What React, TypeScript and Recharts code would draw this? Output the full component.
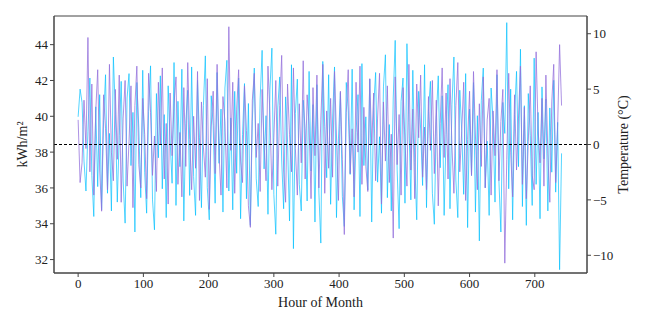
import { LineChart, Line, XAxis, YAxis, ReferenceLine, ReferenceArea } from 'recharts'

// hour of month, sampled every 3 hours
const hours: number[] = Array.from({ length: 248 }, (_, i) => i * 3)

// kWh/m² (left axis)
const kwh: number[] = [
  39.8, 36.3, 37.4, 40.9, 38.2, 44.4, 36.9, 41.8, 35.6, 40.3,
  42.6, 37.0, 34.7, 41.2, 39.3, 35.9, 42.9, 38.0, 36.4, 41.5,
  37.6, 42.3, 35.2, 39.9, 42.0, 36.1, 38.6, 41.7, 34.9, 40.6,
  42.8, 37.3, 36.0, 41.0, 39.0, 35.4, 42.4, 40.2, 36.7, 38.9,
  35.8, 41.9, 38.4, 42.7, 36.5, 39.6, 35.1, 41.3, 37.8, 40.7,
  42.2, 36.2, 39.1, 35.5, 41.6, 37.2, 43.0, 38.7, 35.9, 40.0,
  37.1, 42.5, 35.3, 40.8, 38.3, 36.6, 42.1, 34.8, 39.4, 41.4,
  36.8, 42.9, 37.9, 35.6, 41.1, 39.7, 36.0, 45.0, 38.1, 41.9,
  35.7, 40.4, 42.6, 37.5, 36.3, 41.7, 39.2, 35.0, 33.8, 40.9,
  42.4, 37.7, 39.6, 35.8, 41.5, 38.5, 36.4, 42.8, 40.1, 35.9,
  38.8, 42.0, 36.1, 40.6, 43.4, 37.0, 35.2, 41.8, 39.0, 36.9,
  42.7, 38.2, 35.6, 40.7, 37.4, 43.1, 36.5, 41.2, 39.5, 35.4,
  41.6, 37.8, 42.3, 36.0, 39.8, 42.9, 35.7, 40.3, 37.1, 41.0,
  36.6, 42.5, 38.9, 35.3, 41.4, 37.6, 33.4, 40.2, 42.6, 36.8,
  39.3, 35.5, 41.9, 38.0, 42.8, 36.2, 40.5, 37.2, 35.8, 42.1,
  38.4, 41.3, 36.4, 39.9, 42.4, 35.1, 40.8, 37.5, 41.7, 36.3,
  39.0, 33.2, 42.2, 37.3, 40.1, 35.6, 41.6, 38.6, 36.1, 42.9,
  37.0, 40.4, 35.4, 41.8, 38.8, 42.3, 36.6, 39.4, 35.9, 41.1,
  38.1, 42.0, 36.8, 40.9, 35.0, 39.6, 42.7, 37.7, 41.3, 36.5,
  42.1, 38.3, 35.7, 40.6, 43.0, 36.9, 39.2, 41.9, 35.3, 38.7,
  41.4, 36.7, 42.5, 38.9, 35.9, 40.7, 37.2, 42.2, 36.0, 39.8,
  41.0, 35.6, 40.3, 37.8, 42.6, 36.4, 39.7, 41.5, 31.8, 37.6,
  42.4, 38.0, 35.5, 41.2, 37.0, 39.9, 42.8, 36.2, 40.5, 35.4,
  38.6, 41.7, 36.7, 35.9, 43.6, 39.3, 37.4, 41.0, 36.1, 42.3,
  37.9, 35.2, 40.8, 42.9, 36.3, 39.5, 44.0, 40.6,
]

// temperature °C (right axis)
const temperature: number[] = [
  2.5, 5.0, 3.8, -1.5, -4.2, 1.2, 6.0, -2.8, -6.5, 3.4,
  -3.8, 4.5, -5.9, 2.2, 6.3, -4.4, 1.0, -6.0, 7.9, 3.1,
  -5.2, 0.8, 5.7, -3.3, -7.1, 4.2, 6.4, -1.9, 2.9, -7.9,
  5.6, 1.5, -4.8, 6.7, -2.5, -6.2, 3.0, 7.1, -5.0, -7.7,
  4.6, -1.2, 6.2, -4.0, 2.7, -6.6, 5.3, 0.4, -3.5, 7.4,
  -5.5, 3.9, -2.0, 6.8, -6.9, 1.9, 4.9, -4.6, 7.0, -2.9,
  -6.4, 5.8, 0.6, -5.7, 3.5, 8.0, -3.9, -6.8, 4.4, 1.7,
  -5.3, 6.5, -1.7, 3.2, -6.1, 5.1, 7.6, -4.2, 2.4, -5.9,
  4.8, -2.6, 6.0, -6.7, 0.9, 5.5, -4.9, 3.7, -7.3, 2.1,
  6.9, -3.1, -5.6, 4.1, 8.5, -2.2, 2.6, -6.3, 5.0, 8.7,
  -4.5, -8.1, 3.3, 6.1, -1.4, -5.8, 4.3, 0.2, -6.9, 7.2,
  -9.4, 2.8, 5.9, -3.6, -6.0, 4.0, 1.3, -5.1, 6.6, -2.4,
  3.6, -7.0, 5.4, -4.3, -8.9, 7.5, 1.6, -3.0, 6.3, -5.4,
  2.3, 7.0, -6.6, 0.5, 4.7, -4.7, -7.4, 5.6, 3.1, -2.7,
  6.8, -5.9, 1.1, 4.5, -6.5, 7.3, -1.9, 2.5, -4.1, 5.9,
  -7.0, 3.4, 6.5, -3.4, 0.7, -6.2, 5.2, 8.1, -4.8, 1.8,
  -6.0, 4.2, 9.4, -2.3, -7.6, 3.9, 6.0, -5.3, 9.1, 2.0,
  -5.0, 6.7, -1.6, -6.8, 4.8, 1.4, -3.7, 7.2, -5.7, 3.0,
  5.7, -4.4, -7.2, 2.4, 6.2, -2.1, 4.4, -6.4, 0.9, 5.4,
  -5.8, 3.6, 7.9, -3.2, -6.6, 4.9, 1.2, -4.5, 6.4, -7.5,
  3.2, -2.8, 5.6, -6.1, 2.6, -8.7, 4.0, 6.9, -3.9, 0.3,
  -6.4, 5.1, 2.2, -5.2, 6.3, -3.3, -7.9, 3.8, 1.0, 11.0,
  -4.0, 5.0, -6.8, 2.7, 6.6, -2.0, 8.6, -5.6, 3.5, -7.3,
  4.6, 0.8, -5.5, 7.8, -3.6, 2.9, -6.7, 5.2, -1.3, 4.1,
  -6.0, 3.3, -2.5, 5.8, -4.3, 2.0, -11.3, -0.8,
]

const xTicks = [0, 100, 200, 300, 400, 500, 600, 700]
const leftTicks = [32, 34, 36, 38, 40, 42, 44]
const rightTicks = [-10, -5, 0, 5, 10]

const data = hours.map((h, i) => ({ hour: h, kwh: kwh[i], temp: temperature[i] }))

const font = '"Liberation Serif", "Times New Roman", serif'
const tickStyle = { fontSize: 13, fill: '#222', fontFamily: font }
const axisColor = '#444'

const minus = (v: number) => (v < 0 ? '\u2212' + Math.abs(v) : String(v))

export default function App() {
  return (
    <div style={{ position: 'absolute', left: 0, top: 0, background: '#fff' }}>
      <LineChart width={648} height={324} data={data} margin={{ top: 16, right: 0, bottom: 0, left: 0 }}>
        <XAxis
          dataKey='hour'
          type='number'
          domain={[-37, 780]}
          ticks={xTicks}
          interval={0}
          height={51}
          tickSize={4}
          tick={tickStyle}
          stroke={axisColor}
          label={{ value: 'Hour of Month', position: 'insideBottom', offset: 17, style: { fontSize: 14, fill: '#222', fontFamily: font } }}
        />
        <YAxis
          yAxisId='left'
          orientation='left'
          type='number'
          domain={[31.25, 45.6]}
          ticks={leftTicks}
          interval={0}
          width={54}
          tickSize={4}
          tick={tickStyle}
          stroke={axisColor}
          allowDataOverflow
          label={{ value: 'kWh/m²', angle: -90, position: 'insideLeft', offset: 22, style: { textAnchor: 'middle', fontSize: 14, fill: '#222', fontFamily: font } }}
        />
        <YAxis
          yAxisId='right'
          orientation='right'
          type='number'
          domain={[-11.6, 11.6]}
          ticks={rightTicks}
          interval={0}
          width={61}
          tickSize={4}
          tick={tickStyle}
          tickFormatter={minus}
          stroke={axisColor}
          allowDataOverflow
          label={{ value: 'Temperature (°C)', angle: -90, position: 'insideRight', offset: 25, style: { textAnchor: 'middle', fontSize: 14, fill: '#222', fontFamily: font } }}
        />
        <ReferenceArea yAxisId='left' x1={-37} x2={780} y1={31.25} y2={45.6} fill='none' stroke={axisColor} strokeWidth={1} />
        <Line yAxisId='right' type='linear' dataKey='temp' stroke='#00BFFF' strokeWidth={0.9} strokeOpacity={0.75} dot={false} isAnimationActive={false} />
        <Line yAxisId='left' type='linear' dataKey='kwh' stroke='#9370DB' strokeWidth={0.9} strokeOpacity={0.85} dot={false} isAnimationActive={false} />
        <ReferenceLine yAxisId='right' y={0} stroke='#000' strokeWidth={1} strokeDasharray='3 2' />
      </LineChart>
    </div>
  )
}
